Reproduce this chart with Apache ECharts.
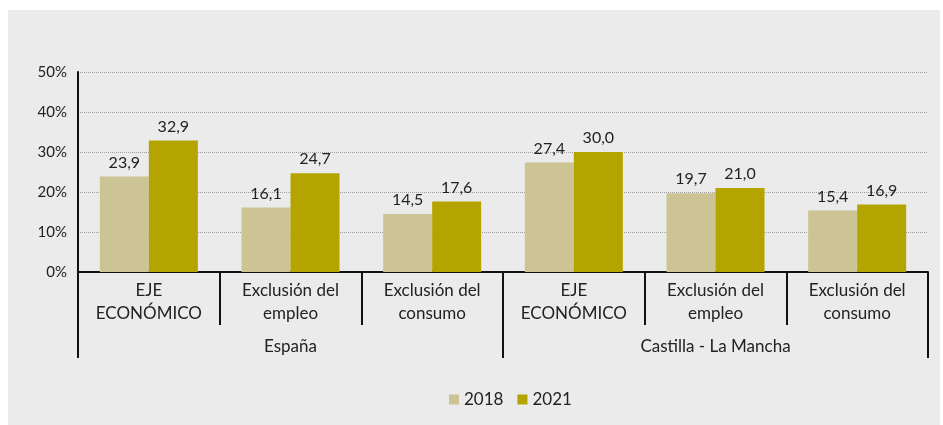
<!DOCTYPE html>
<html>
<head>
<meta charset="utf-8">
<script src="https://cdn.jsdelivr.net/npm/echarts@6/dist/echarts.min.js"></script>
<style>
  html, body { margin: 0; padding: 0; background: #fff; }
  #chart { width: 943px; height: 425px; }
</style>
</head>
<body>
<div id="chart"></div>
<script>
var categorias = ['EJE\nECONÓMICO', 'Exclusión del\nempleo', 'Exclusión del\nconsumo',
                  'EJE\nECONÓMICO', 'Exclusión del\nempleo', 'Exclusión del\nconsumo'];
var territorios = ['España', 'Castilla - La Mancha'];
var anios = ['2018', '2021'];
var datos2018 = [23.9, 16.1, 14.5, 27.4, 19.7, 15.4];
var datos2021 = [32.9, 24.7, 17.6, 30.0, 21.0, 16.9];
var colores = ['#ccc494', '#b4a400'];
var fuente = 'Lato';

var formatoComa = function (p) {
  return p.value.toFixed(1).replace('.', ',');
};

var chart = echarts.init(document.getElementById('chart'));

var option = {
  backgroundColor: '#fff',
  textStyle: { fontFamily: fuente },
  graphic: [{
    type: 'rect',
    z: -100,
    silent: true,
    shape: { x: 8, y: 10, width: 932, height: 415 },
    style: { fill: '#ebebeb' }
  }],
  legend: {
    data: anios,
    top: 386,
    left: 444,
    itemWidth: 10,
    itemHeight: 10,
    itemGap: 14,
    icon: 'rect',
    textStyle: { fontFamily: fuente, fontSize: 17, color: '#222' }
  },
  grid: { left: 78, right: 15, top: 72, bottom: 153, containLabel: false },
  xAxis: [
    {
      type: 'category',
      data: categorias,
      position: 'bottom',
      axisLine: { show: true, lineStyle: { color: '#111', width: 2 } },
      axisTick: { show: true, length: 53, lineStyle: { color: '#111', width: 2 } },
      axisLabel: {
        fontFamily: fuente, fontSize: 17, color: '#222', lineHeight: 23,
        margin: 7, interval: 0
      }
    },
    {
      type: 'category',
      data: territorios,
      position: 'bottom',
      axisLine: { show: false },
      axisTick: { show: true, length: 86, lineStyle: { color: '#111', width: 2 } },
      axisLabel: { fontFamily: fuente, fontSize: 17, color: '#222', margin: 66 }
    }
  ],
  yAxis: {
    type: 'value',
    min: 0,
    max: 50,
    interval: 10,
    axisLine: { show: true, lineStyle: { color: '#111', width: 2 } },
    axisTick: { show: false },
    axisLabel: { formatter: '{value}%', fontFamily: fuente, fontSize: 15, color: '#222', margin: 11 },
    splitLine: { show: true, lineStyle: { color: '#a0a0a0', type: [1, 1], width: 1 } }
  },
  series: [
    {
      name: anios[0],
      type: 'bar',
      xAxisIndex: 0,
      data: datos2018,
      barWidth: 49,
      barGap: '0%',
      itemStyle: { color: colores[0] },
      label: {
        show: true, position: 'top', distance: 6, formatter: formatoComa,
        fontFamily: fuente, fontSize: 16, color: '#222'
      }
    },
    {
      name: anios[1],
      type: 'bar',
      xAxisIndex: 0,
      data: datos2021,
      barWidth: 49,
      barGap: '0%',
      itemStyle: { color: colores[1] },
      label: {
        show: true, position: 'top', distance: 6, formatter: formatoComa,
        fontFamily: fuente, fontSize: 16, color: '#222'
      }
    }
  ]
};

chart.setOption(option);
</script>
</body>
</html>
